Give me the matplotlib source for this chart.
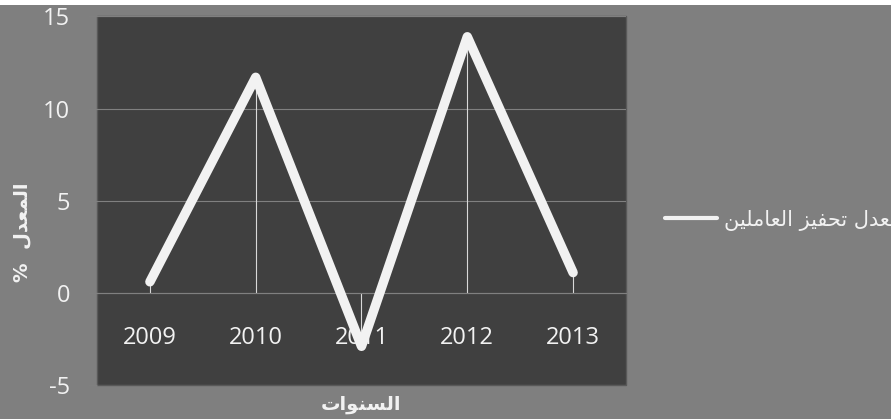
import matplotlib.pyplot as plt
from matplotlib.patches import Rectangle

plt.rcParams["axes.unicode_minus"] = False

# بيانات معدل تحفيز العاملين
years = ["2009", "2010", "2011", "2012", "2013"]
rates = [0.6, 11.7, -2.9, 13.9, 1.1]
y_ticks = [-5, 0, 5, 10, 15]

# النصوص العربية مكتوبة بأشكال العرض (ترتيب بصري) لأن matplotlib لا يشكّل الحروف
series_label = ("\uFEE6\uFEF4\uFEE0\uFEE3\uFE8E\uFECC\uFEDF\uFE8D "
                "\uFEB0\uFEF4\uFED4\uFEA4\uFE97 "
                "\uFEDD\uFEAA\uFECC\uFEE3")          # معدل تحفيز العاملين
x_title = "\uFE95\uFE8D\uFEEE\uFEE8\uFEB4\uFEDF\uFE8D"   # السنوات
y_title = "%  \uFEDD\uFEAA\uFECC\uFEE4\uFEDF\uFE8D"      # المعدل %

BG = "#7f7f7f"
PLOT_BG = "#404040"
GRID = "#808080"
FG = "#f2f2f2"

W, H = 891, 419
fig = plt.figure(figsize=(W / 100, H / 100), dpi=100, facecolor=BG)
fig.patches.append(Rectangle((0, 1 - 5 / H), 1, 5 / H, transform=fig.transFigure,
                             facecolor="white", edgecolor="none"))

left, right, top, bottom = 97, 626, 16.5, 385
ax = fig.add_axes([left / W, 1 - bottom / H, (right - left) / W, (bottom - top) / H])
ax.set_facecolor(PLOT_BG)
ax.patch.set_edgecolor("#595959")
ax.patch.set_linewidth(1)

x = list(range(len(years)))

# خطوط الإسقاط من كل نقطة إلى المحور
ax.vlines(x, 0, rates, colors="#d9d9d9", linewidth=0.8, zorder=1.8)
line, = ax.plot(x, rates, color=FG, linewidth=6.8, solid_capstyle="round",
                solid_joinstyle="round", zorder=3, label=series_label)

ax.set_xlim(-0.5, len(years) - 0.5)
ax.set_ylim(-5, 15)
ax.set_yticks(y_ticks)
ax.set_xticks(x)
ax.set_xticklabels(years)
ax.grid(axis="y", color=GRID, linewidth=0.8)

for side in ["left", "right", "top"]:
    ax.spines[side].set_visible(False)
ax.spines["bottom"].set_position(("data", 0))
ax.spines["bottom"].set_color(GRID)
ax.spines["bottom"].set_linewidth(0.8)

num_font = "Open Sans"
ax.tick_params(axis="y", length=6.5, width=0.8, color=GRID, pad=13,
               labelsize=17, labelcolor=FG)
ax.tick_params(axis="x", length=0, pad=24, labelsize=17, labelcolor=FG)
for lbl in ax.get_xticklabels() + ax.get_yticklabels():
    lbl.set_family(num_font)

fig.text(361.5 / W, 1 - 404 / H, x_title, ha="center", va="center", color=FG,
         fontsize=14, fontweight="bold", family="DejaVu Sans")
fig.text(22 / W, 1 - 232 / H, y_title, ha="center", va="center", color=FG,
         fontsize=14, fontweight="bold", family="DejaVu Sans", rotation=90)

leg = ax.legend(loc="center left", bbox_to_anchor=(665 / W, 1 - 220 / H),
                bbox_transform=fig.transFigure, frameon=False, borderpad=0,
                borderaxespad=0, handlelength=2.5, handletextpad=0.35,
                prop={"family": "DejaVu Sans", "size": 15})
leg.get_lines()[0].set_linewidth(3)
for t in leg.get_texts():
    t.set_color(FG)

fig.savefig("out.png", dpi=100, facecolor=BG)
